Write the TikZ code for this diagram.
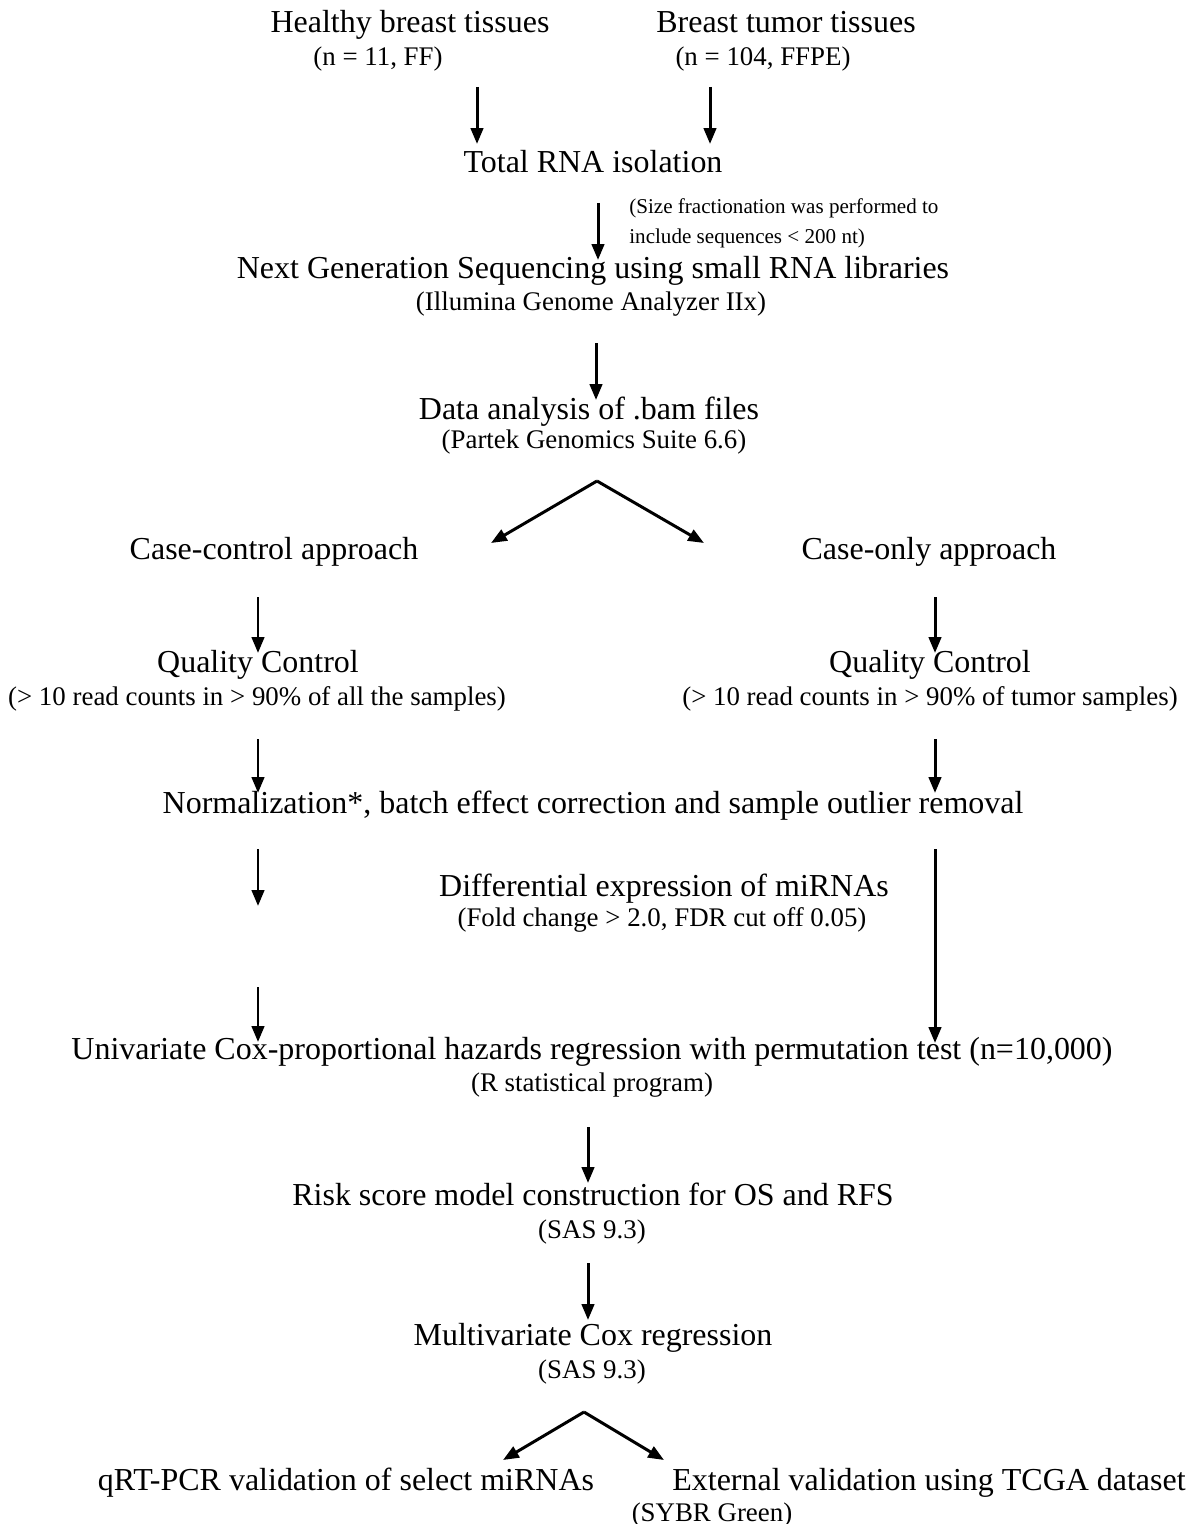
\documentclass[tikz,border=0pt]{standalone}
\usepackage{fontspec}
\setmainfont{Liberation Serif}
\usetikzlibrary{arrows.meta}
\begin{document}
\begin{tikzpicture}[x=0.02cm,y=-0.02cm,>={Triangle[length=9pt,width=7pt]},
	arr/.style={->,line width=1.7pt},
	big/.style={anchor=base,inner sep=0pt,font=\fontsize{18.2}{21}\selectfont},
	small/.style={anchor=base,inner sep=0pt,font=\fontsize{15.3}{18}\selectfont},
	note/.style={anchor=base west,inner sep=0pt,font=\fontsize{12}{14}\selectfont}]
	\useasboundingbox (0,0) rectangle (1201,1524);
	% steps
	\node[big] (healthy) at (410,33) {Healthy breast tissues};
	\node[small] (healthyn) at (378,66) {(n = 11, FF)};
	\node[big] (tumor) at (786,33) {Breast tumor tissues};
	\node[small] (tumorn) at (763,66) {(n = 104, FFPE)};
	\node[big] (rna) at (593,173) {Total RNA isolation};
	\node[note] (size1) at (629,214) {(Size fractionation was performed to};
	\node[note] (size2) at (629,243) {include sequences < 200 nt)};
	\node[big] (ngs) at (593,278) {Next Generation Sequencing using small RNA libraries};
	\node[small] (ngsn) at (591,310) {(Illumina Genome Analyzer IIx)};
	\node[big] (bam) at (589,419) {Data analysis of .bam files};
	\node[small] (bamn) at (594,448) {(Partek Genomics Suite 6.6)};
	\node[big] (cc) at (274,559) {Case-control approach};
	\node[big] (co) at (929,559) {Case-only approach};
	\node[big] (qcl) at (258,672) {Quality Control};
	\node[small] (qcln) at (257,705) {(> 10 read counts in > 90\% of all the samples)};
	\node[big] (qcr) at (930,672) {Quality Control};
	\node[small] (qcrn) at (930,705) {(> 10 read counts in > 90\% of tumor samples)};
	\node[big] (norm) at (593,813) {Normalization*, batch effect correction and sample outlier removal};
	\node[big] (diff) at (664,896) {Differential expression of miRNAs};
	\node[small] (diffn) at (662,926) {(Fold change > 2.0, FDR cut off 0.05)};
	\node[big] (cox) at (592,1059) {Univariate Cox-proportional hazards regression with permutation test (n=10,000)};
	\node[small] (coxn) at (592,1091) {(R statistical program)};
	\node[big] (risk) at (593,1205) {Risk score model construction for OS and RFS};
	\node[small] (riskn) at (592,1238) {(SAS 9.3)};
	\node[big] (multi) at (593,1345) {Multivariate Cox regression};
	\node[small] (multin) at (592,1378) {(SAS 9.3)};
	\node[big] (qrt) at (346,1490) {qRT-PCR validation of select miRNAs};
	\node[big] (tcga) at (929,1490) {External validation using TCGA dataset};
	\node[small] (sybr) at (712,1521) {(SYBR Green)};
	% straight arrows
	\foreach \n/\x/\a/\b in {a1/477/87/144, a2/710/87/144, a3/598/203/260, a4/596/343/400,
		a5/258/597/653, a6/935/597/653, a7/258/739/793, a8/935/739/793,
		a9/258/849/906, a10/935/849/1043, a11/258/987/1042, a12/588/1127/1183, a13/588/1263/1320}{
		\coordinate (\n-s) at (\x,\a);
		\coordinate (\n-e) at (\x,\b);
		\draw[arr] (\n-s)--(\n-e);}
	% forks
	\coordinate (fork1) at (597,481);
	\coordinate (fork1l) at (491,543);
	\coordinate (fork1r) at (704,543);
	\draw[arr] (fork1)--(fork1l);
	\draw[arr] (fork1)--(fork1r);
	\coordinate (fork2) at (584,1412);
	\coordinate (fork2l) at (503,1460);
	\coordinate (fork2r) at (664,1460);
	\draw[arr] (fork2)--(fork2l);
	\draw[arr] (fork2)--(fork2r);
\end{tikzpicture}
\end{document}
